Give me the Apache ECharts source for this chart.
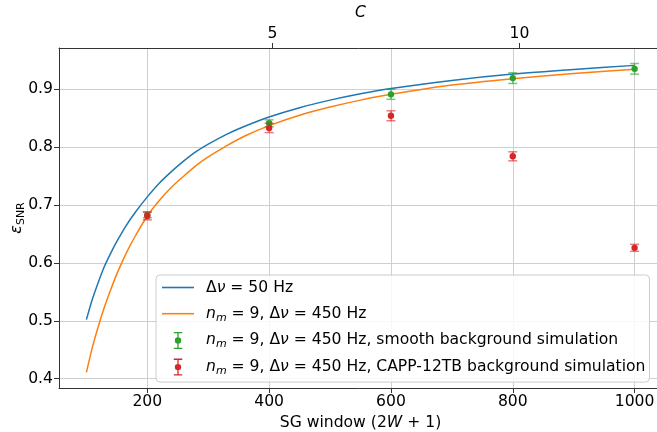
<!DOCTYPE html>
<html><head><meta charset="utf-8">
<script src="https://cdn.jsdelivr.net/npm/echarts@6/dist/echarts.min.js"></script>
<style>html,body{margin:0;padding:0;background:#fff}#c{width:657px;height:432px}</style>
</head><body><div id="c"></div>
<script>
// ---- data ----
const curveWindow = [100,110,120,130,140,150,165,180,200,220,240,260,280,300,330,360,400,450,500,550,600,700,800,900,1000];
const blueEps   = [0.502,0.538,0.568,0.595,0.617,0.637,0.664,0.687,0.714,0.738,0.758,0.776,0.792,0.805,0.822,0.836,0.852,0.868,0.881,0.892,0.901,0.915,0.926,0.934,0.941];
const orangeEps = [0.411,0.455,0.492,0.525,0.554,0.581,0.616,0.646,0.681,0.708,0.731,0.750,0.768,0.783,0.802,0.819,0.837,0.855,0.869,0.881,0.891,0.907,0.918,0.927,0.9345];
const greenWindow = [200,400,600,800,1000];
const greenEps    = [0.683,0.841,0.891,0.919,0.935];
const greenErr    = [0.005,0.006,0.0086,0.0092,0.0092];
const redWindow = [200,400,600,800,1000];
const redEps    = [0.681,0.833,0.854,0.784,0.626];
const redErr    = [0.0066,0.008,0.0086,0.0078,0.006];
const xTicks = [200,400,600,800,1000];
const yTicks = [0.4,0.5,0.6,0.7,0.8,0.9];
const cTicks = [5,10];
const windowPerC = 81.1;

const FONT = 'DejaVu Sans';
const FS = 15.6;
const xMin = 55, xMax = 1045, yMin = 0.384, yMax = 0.971;

function pairs(xs, ys){ return xs.map((x,i)=>[x, ys[i]]); }
function triples(xs, ys, es){ return xs.map((x,i)=>[x, ys[i], es[i]]); }

function errRender(color){
  return function(params, api){
    const x = api.value(0), y = api.value(1), e = api.value(2);
    const p = api.coord([x,y]), hi = api.coord([x,y+e]), lo = api.coord([x,y-e]);
    const cw = 4.5;
    const ls = {stroke: color, lineWidth: 1.5, opacity: 0.6};
    return {type:'group', children:[
      {type:'line', shape:{x1:p[0],y1:hi[1],x2:p[0],y2:lo[1]}, style:ls},
      {type:'line', shape:{x1:p[0]-cw,y1:hi[1],x2:p[0]+cw,y2:hi[1]}, style:ls},
      {type:'line', shape:{x1:p[0]-cw,y1:lo[1],x2:p[0]+cw,y2:lo[1]}, style:ls},
      {type:'circle', shape:{cx:p[0],cy:p[1],r:3.2}, style:{fill:color}}
    ]};
  };
}

const errIcon = 'path://M0,0H8V1.2H4.6V7.2A1,1 0 0,1 4.6,8.8V14.8H8V16H0V14.8H3.4V8.8A1,1 0 0,1 3.4,7.2V1.2H0Z M7,8A3,3 0 1,1 1,8A3,3 0 1,1 7,8Z';
const lineIcon = 'path://M0,0H32V1.6H0Z';

const legendText = {
  blue:   '{t|Δ}{i|ν}{t| = 50 Hz}',
  orange: '{i|n}{s|m}{t| = 9, Δ}{i|ν}{t| = 450 Hz}',
  green:  '{i|n}{s|m}{t| = 9, Δ}{i|ν}{t| = 450 Hz, smooth background simulation}',
  red:    '{i|n}{s|m}{t| = 9, Δ}{i|ν}{t| = 450 Hz, CAPP-12TB background simulation}'
};

const chart = echarts.init(document.getElementById('c'), null, {renderer:'canvas'});
chart.setOption({
  animation: false,
  textStyle: {fontFamily: FONT},
  grid: {left: 59, top: 48, right: -5, bottom: 44, containLabel: false, outerBoundsMode: 'none'},
  xAxis: [{
    type: 'value', min: xMin, max: xMax, position: 'bottom',
    name: '{t|SG window (2}{i|W}{t| + 1)}', nameLocation: 'middle', nameGap: 25,
    nameTextStyle: {rich: {t:{fontFamily:FONT,fontSize:FS,color:'#000'}, i:{fontFamily:FONT,fontSize:FS,fontStyle:'italic',color:'#000'}}},
    axisLine: {show: true, lineStyle: {color: '#333', width: 1}},
    axisTick: {show: true, length: 5, lineStyle: {color:'#333'}, customValues: xTicks},
    axisLabel: {fontFamily: FONT, fontSize: FS, color: '#000', margin: 6, customValues: xTicks, formatter: v => String(v)},
    splitLine: {show: true, lineStyle: {color: '#cfcfcf', width: 1}}
  },{
    type: 'value', min: xMin/windowPerC, max: xMax/windowPerC, position: 'top',
    name: 'C', nameLocation: 'middle', nameGap: 25,
    nameTextStyle: {fontFamily: FONT, fontSize: FS, fontStyle: 'italic', color: '#000'},
    axisLine: {show: true, lineStyle: {color: '#333', width: 1}},
    axisTick: {show: true, length: 5, lineStyle: {color:'#333'}, customValues: cTicks},
    axisLabel: {fontFamily: FONT, fontSize: FS, color: '#000', margin: 6, customValues: cTicks, formatter: v => String(v)},
    splitLine: {show: false}
  }],
  yAxis: {
    type: 'value', min: yMin, max: yMax,
    name: '{e|ε}{s|SNR}', nameLocation: 'middle', nameGap: 32, nameRotate: 90, nameMoveOverlap: false,
    nameTextStyle: {rich: {e:{fontFamily:FONT,fontSize:16,fontStyle:'italic',color:'#000',lineHeight:20}, s:{fontFamily:FONT,fontSize:11,color:'#000',lineHeight:12,padding:[8,0,0,0]}}},
    axisLine: {show: true, lineStyle: {color: '#333', width: 1}},
    axisTick: {show: true, length: 5, lineStyle: {color:'#333'}, customValues: yTicks},
    axisLabel: {fontFamily: FONT, fontSize: FS, color: '#000', margin: 6, customValues: yTicks, formatter: v => v.toFixed(1)},
    splitLine: {show: true, lineStyle: {color: '#cfcfcf', width: 1}}
  },
  legend: {
    orient: 'vertical', left: 156, top: 275,
    padding: [3.5, 4, 5.5, 6], itemGap: 7.7, itemWidth: 32, itemHeight: 17,
    backgroundColor: 'rgba(255,255,255,0.85)', borderColor: '#cccccc', borderWidth: 1, borderRadius: 4,
    data: [
      {name: 'blue', icon: lineIcon, itemStyle:{color:'#1f77b4'}},
      {name: 'orange', icon: lineIcon, itemStyle:{color:'#ff7f0e'}},
      {name: 'green', icon: errIcon, itemStyle:{color:'#2ca02c'}},
      {name: 'red', icon: errIcon, itemStyle:{color:'#d62728'}}
    ],
    formatter: n => legendText[n],
    textStyle: {padding: [0,0,0,7], lineHeight: 18, rich: {
      t: {fontFamily: FONT, fontSize: FS, color: '#000', lineHeight: 18},
      i: {fontFamily: FONT, fontSize: FS, fontStyle: 'italic', color: '#000', lineHeight: 18},
      s: {fontFamily: FONT, fontSize: 11, fontStyle: 'italic', color: '#000', lineHeight: 12, padding: [8,0,0,0]}
    }}
  },
  series: [
    {name: 'blue', type: 'line', data: pairs(curveWindow, blueEps), symbol: 'none', smooth: 0.25,
     color: '#1f77b4', lineStyle: {width: 1.5, color: '#1f77b4'}, z: 2},
    {name: 'orange', type: 'line', data: pairs(curveWindow, orangeEps), symbol: 'none', smooth: 0.25,
     color: '#ff7f0e', lineStyle: {width: 1.5, color: '#ff7f0e'}, z: 2},
    {name: 'green', type: 'custom', renderItem: errRender('#2ca02c'), data: triples(greenWindow, greenEps, greenErr),
     encode: {x: 0, y: 1}, itemStyle: {color: '#2ca02c'}, clip: false, z: 3},
    {name: 'red', type: 'custom', renderItem: errRender('#d62728'), data: triples(redWindow, redEps, redErr),
     encode: {x: 0, y: 1}, itemStyle: {color: '#d62728'}, clip: false, z: 4}
  ]
});
</script></body></html>
